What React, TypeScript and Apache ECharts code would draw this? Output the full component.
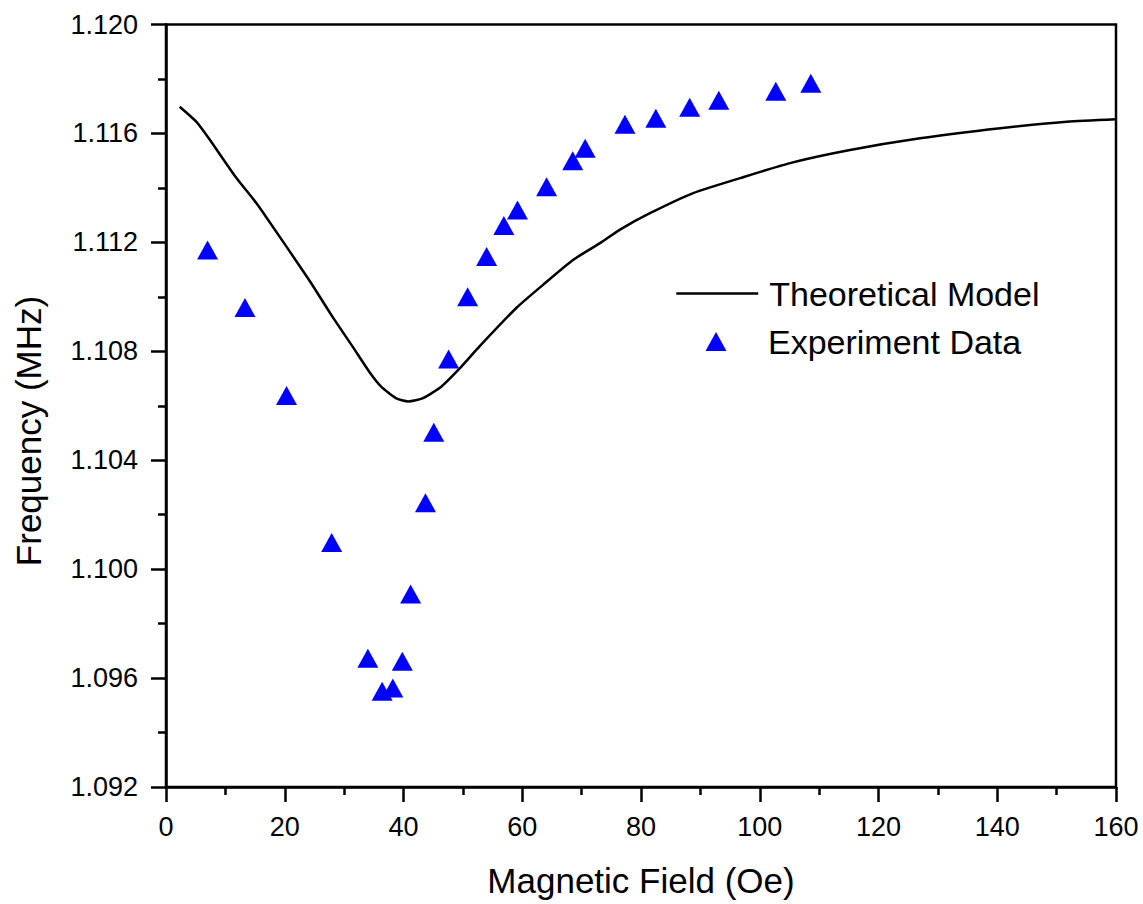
import React, { useEffect, useRef } from "react";
import * as echarts from "echarts";

// Theoretical model curve (Magnetic Field in Oe, Frequency in MHz)
const theoryField = [
  2.3, 5.1, 7.2, 11.7, 14.8, 16.8, 24.1, 28.0, 31.4, 34.2, 36.2, 38.7, 40.8, 43.3,
  46.4, 49.5, 52.8, 59.0, 63.5, 68.6, 73.1, 76.4, 81.5, 88.8, 96.7, 105.1, 115.2,
  127.0, 140.5, 151.7, 160.0,
];
const theoryFreq = [
  1.11698, 1.11643, 1.11582, 1.11441, 1.11356, 1.11295, 1.11062, 1.10928, 1.10818,
  1.10726, 1.10671, 1.10628, 1.10616, 1.10628, 1.10671, 1.10738, 1.10818, 1.10959,
  1.11044, 1.11136, 1.11197, 1.11246, 1.11307, 1.11381, 1.11436, 1.11491, 1.11539,
  1.11582, 1.11619, 1.11643, 1.11652,
];

// Experiment data
const expField = [
  7.0, 13.3, 20.3, 27.9, 34.0, 36.4, 38.2, 39.8, 41.2, 43.7, 45.1, 47.6, 50.8, 54.0,
  56.9, 59.2, 64.1, 68.5, 70.6, 77.3, 82.5, 88.2, 93.1, 102.7, 108.6,
];
const expFreq = [
  1.11172, 1.10961, 1.10638, 1.10098, 1.09673, 1.09552, 1.09564, 1.09662, 1.09909,
  1.10244, 1.10503, 1.10772, 1.11, 1.11148, 1.11262, 1.11319, 1.11404, 1.115,
  1.11546, 1.11634, 1.11656, 1.11696, 1.11722, 1.11755, 1.11784,
];

const seriesNames = ["Theoretical Model", "Experiment Data"];
const xTitle = "Magnetic Field (Oe)";
const yTitle = "Frequency (MHz)";

const FONT = "'Liberation Sans', Arial, Helvetica, sans-serif";

export default function App() {
  const ref = useRef<HTMLDivElement>(null);

  useEffect(() => {
    if (!ref.current) return;
    const chart = echarts.init(ref.current, null, { renderer: "svg" });

    const theory = theoryField.map((x, i) => [x, theoryFreq[i]]);
    const exp = expField.map((x, i) => [x, expFreq[i]]);

    const axisCommon = {
      axisLine: { show: true, lineStyle: { color: "#000", width: 2.5 } },
      axisTick: { show: true, length: 15, lineStyle: { color: "#000", width: 2.5 } },
      minorTick: { show: true, splitNumber: 2, length: 8, lineStyle: { color: "#000", width: 2.5 } },
      splitLine: { show: false },
      minorSplitLine: { show: false },
    };

    const legendText = {
      color: "#000",
      fontSize: 34,
      fontFamily: FONT,
      lineHeight: 33,
    };

    chart.setOption({
      animation: false,
      backgroundColor: "#fff",
      grid: {
        left: 166,
        right: 27,
        top: 24.5,
        bottom: 117,
        show: true,
        borderColor: "#000",
        borderWidth: 2.5,
        backgroundColor: "transparent",
      },
      xAxis: {
        type: "value",
        min: 0,
        max: 160,
        interval: 20,
        ...axisCommon,
        axisLabel: {
          color: "#000",
          fontSize: 27,
          fontFamily: FONT,
          margin: 26,
        },
        name: xTitle,
        nameLocation: "middle",
        nameGap: 76,
        nameTextStyle: { color: "#000", fontSize: 35, fontFamily: FONT },
      },
      yAxis: {
        type: "value",
        min: 1.092,
        max: 1.12,
        interval: 0.004,
        ...axisCommon,
        axisLabel: {
          color: "#000",
          fontSize: 27,
          fontFamily: FONT,
          margin: 28,
          formatter: (v: number) => v.toFixed(3),
        },
      },
      graphic: [
        {
          type: "text",
          x: 28,
          y: 431,
          rotation: Math.PI / 2,
          style: {
            text: yTitle,
            fill: "#000",
            font: `35px ${FONT}`,
            textAlign: "center",
            textVerticalAlign: "middle",
          },
        },
      ],
      legend: [
        {
          orient: "vertical",
          left: 675,
          top: 276.5,
          padding: 0,
          itemWidth: 82,
          itemHeight: 20,
          lineStyle: { width: 2.5, color: "#000" },
          textStyle: { ...legendText, padding: [0, 0, 0, 6] },
          data: [{ name: seriesNames[0], itemStyle: { opacity: 0 } }],
        },
        {
          orient: "vertical",
          left: 705.5,
          top: 324.5,
          padding: 0,
          itemWidth: 21,
          itemHeight: 19,
          textStyle: { ...legendText, padding: [0, 0, 0, 36.5] },
          data: [{ name: seriesNames[1], icon: "triangle" }],
        },
      ],
      series: [
        {
          name: seriesNames[0],
          type: "line",
          data: theory,
          smooth: 0.2,
          symbol: "none",
          showSymbol: false,
          lineStyle: { color: "#000", width: 2.5 },
          itemStyle: { color: "#000" },
          z: 2,
        },
        {
          name: seriesNames[1],
          type: "scatter",
          data: exp,
          symbol: "triangle",
          symbolSize: [21, 19],
          itemStyle: { color: "#0000FF", opacity: 1 },
          z: 3,
        },
      ],
    });

    return () => chart.dispose();
  }, []);

  return (
    <div
      ref={ref}
      style={{ position: "absolute", left: 0, top: 0, width: 1143, height: 904, background: "#fff" }}
    />
  );
}
